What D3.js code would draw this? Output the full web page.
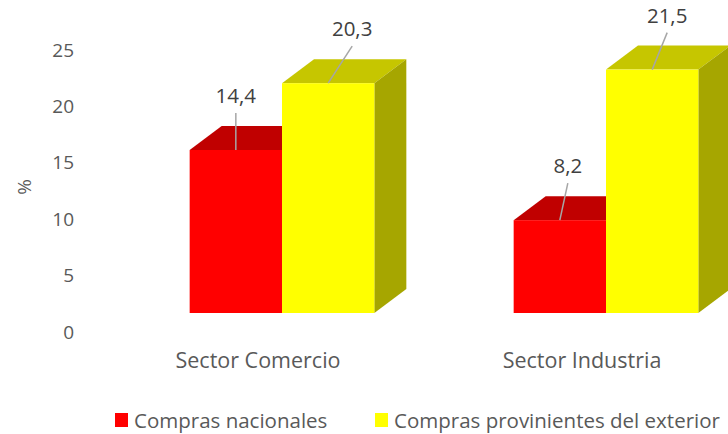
<!DOCTYPE html>
<html>
<head>
<meta charset="utf-8">
<script src="https://cdn.jsdelivr.net/npm/d3@7"></script>
<style>
  body { margin: 0; background: #fff; }
  text { font-family: "Open Sans", sans-serif; }
</style>
</head>
<body>
<div id="chart"></div>
<script>
// data
var categories = ["Sector Comercio", "Sector Industria"];
var seriesNames = ["Compras nacionales", "Compras provinientes del exterior"];
var nacionales = [14.4, 8.2];
var exterior = [20.3, 21.5];
var yTicks = [0, 5, 10, 15, 20, 25];

// styles / layout
var width = 728, height = 434;
var frontColors = ["#ff0000", "#ffff00"];
var topColors = ["#c00000", "#c6c600"];
var sideColors = ["#a00000", "#a6a600"];
var depth = {dx: 32, dy: -24};
// manual label nudges (x) as placed in the original
var labelNudge = [[0, 24], [8, 15]];

var svg = d3.select("#chart")
  .append("svg")
  .attr("width", width)
  .attr("height", height);

var x = d3.scaleBand()
  .domain(categories)
  .range([120, 768])
  .paddingInner(0.43)
  .paddingOuter(0.215);

var xs = d3.scaleBand()
  .domain(d3.range(seriesNames.length))
  .range([0, x.bandwidth()]);

var y = d3.scaleLinear().domain([0, 25]).range([313, 30]);
// axis sits on the back wall in the 3d view
var yAxisScale = y.copy().range([332, 50]);

// y axis
var yAxis = svg.append("g")
  .attr("transform", "translate(74,0)")
  .call(d3.axisLeft(yAxisScale).tickValues(yTicks).tickSize(0).tickPadding(0));
yAxis.select(".domain").remove();
yAxis.selectAll("text")
  .attr("fill", "#595959")
  .style("font-size", "19px")
  .style("font-family", "'Open Sans', sans-serif");

svg.append("text")
  .attr("transform", "translate(31,187) rotate(-90)")
  .attr("text-anchor", "middle")
  .attr("fill", "#595959")
  .style("font-size", "19px")
  .text("%");

// bars
var series = [nacionales, exterior];
var bars = [];
categories.forEach(function(c, i) {
  series.forEach(function(s, j) {
    bars.push({cat: c, ci: i, si: j, value: s[i]});
  });
});

var g = svg.selectAll(".bar")
  .data(bars)
  .enter()
  .append("g")
  .attr("class", "bar");

function pts(arr) {
  return arr.map(function(p) { return p.join(","); }).join(" ");
}

g.each(function(d) {
  var x0 = x(d.cat) + xs(d.si), x1 = x0 + xs.bandwidth();
  var y0 = y(0), y1 = y(d.value);
  var sel = d3.select(this);
  // top
  sel.append("polygon")
    .attr("points", pts([[x0, y1], [x1, y1], [x1 + depth.dx, y1 + depth.dy], [x0 + depth.dx, y1 + depth.dy]]))
    .attr("fill", topColors[d.si]);
  // side
  sel.append("polygon")
    .attr("points", pts([[x1, y1], [x1 + depth.dx, y1 + depth.dy], [x1 + depth.dx, y0 + depth.dy], [x1, y0]]))
    .attr("fill", sideColors[d.si]);
  // front
  sel.append("rect")
    .attr("x", x0)
    .attr("y", y1)
    .attr("width", x1 - x0)
    .attr("height", y0 - y1)
    .attr("fill", frontColors[d.si]);
});

// data labels with leader lines
g.each(function(d) {
  var cx = x(d.cat) + xs(d.si) + xs.bandwidth() / 2;
  var ty = y(d.value);
  var lx = cx + labelNudge[d.ci][d.si];
  var base = ty - 47;
  var sel = d3.select(this);
  sel.append("line")
    .attr("x1", cx).attr("y1", ty)
    .attr("x2", lx).attr("y2", base + 10)
    .attr("stroke", "#a6a6a6")
    .attr("stroke-width", 1.5);
  sel.append("text")
    .attr("x", lx)
    .attr("y", base)
    .attr("text-anchor", "middle")
    .attr("fill", "#404040")
    .style("font-size", "20.5px")
    .text(String(d.value).replace(".", ","));
});

// category labels
svg.selectAll(".cat")
  .data(categories)
  .enter()
  .append("text")
  .attr("class", "cat")
  .attr("x", function(d) { return x(d) + x.bandwidth() / 2 - 24; })
  .attr("y", 368)
  .attr("text-anchor", "middle")
  .attr("fill", "#595959")
  .style("font-size", "21.5px")
  .text(function(d) { return d; });

// legend
var legendX = [115, 375];
var legend = svg.selectAll(".legend")
  .data(seriesNames)
  .enter()
  .append("g")
  .attr("class", "legend")
  .attr("transform", function(d, i) { return "translate(" + legendX[i] + ",413)"; });
legend.append("rect")
  .attr("width", 13)
  .attr("height", 14)
  .attr("fill", function(d, i) { return frontColors[i]; });
legend.append("text")
  .attr("x", 19)
  .attr("y", 15)
  .attr("fill", "#595959")
  .style("font-size", "20.5px")
  .text(function(d) { return d; });
</script>
</body>
</html>
